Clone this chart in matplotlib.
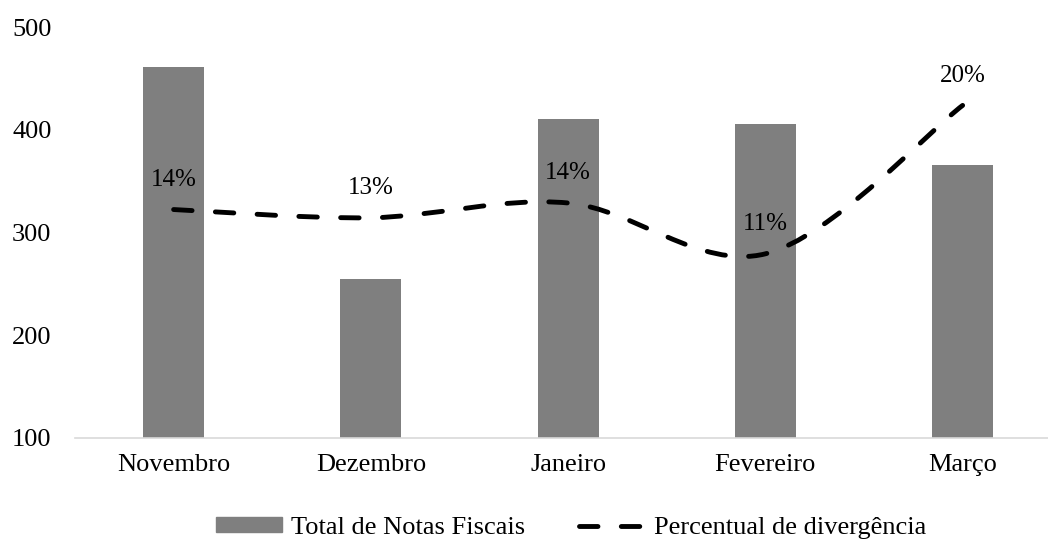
import matplotlib.pyplot as plt
from matplotlib.path import Path
from matplotlib.patches import PathPatch
from matplotlib.lines import Line2D
import numpy as np

meses = ['Novembro', 'Dezembro', 'Janeiro', 'Fevereiro', 'Março']
total_notas = [461, 255, 411, 406, 366]
divergencia = [0.139, 0.134, 0.143, 0.112, 0.2025]

plt.rcParams['font.family'] = ['Liberation Serif', 'DejaVu Serif']
fs = 19

fig = plt.figure(figsize=(10.48, 5.39), dpi=100)
ax = fig.add_axes([75/1048, 101.5/539, 973/1048, 410/539])

x = np.arange(len(meses))
ax.bar(x, total_notas, width=0.31, color='#7f7f7f', zorder=2,
       label='Total de Notas Fiscais')
ax.set_ylim(100, 500)
ax.set_yticks([100, 200, 300, 400, 500])
ax.set_xlim(-0.5, -0.5 + 973/197.25)
ax.set_xticks(x)
ax.set_xticklabels(meses)
ax.tick_params(axis='both', length=0, labelsize=fs)
ax.tick_params(axis='x', pad=12)
ax.tick_params(axis='y', pad=17)
for s in ['top', 'right', 'left']:
    ax.spines[s].set_visible(False)
ax.spines['bottom'].set_color('#d9d9d9')
ax.spines['bottom'].set_linewidth(1.2)

# percentual em eixo secundario (oculto)
ax2 = ax.twinx()
ax2.set_ylim(0, 0.25)
ax2.axis('off')

# linha suavizada (bezier estilo catmull-rom)
pts = np.column_stack([x, divergencia])
verts = [tuple(pts[0])]
codes = [Path.MOVETO]
n = len(pts)
for i in range(n - 1):
    p0 = pts[max(i - 1, 0)]
    p1 = pts[i]
    p2 = pts[i + 1]
    p3 = pts[min(i + 2, n - 1)]
    c1 = p1 + (p2 - p0) / 6
    c2 = p2 - (p3 - p1) / 6
    verts += [tuple(c1), tuple(c2), tuple(p2)]
    codes += [Path.CURVE4] * 3
lw = 3.5
dash = (0, (3.8, 4.8))
curva = PathPatch(Path(verts, codes), fill=False, edgecolor='black', lw=lw,
                  linestyle=dash, capstyle='round', zorder=3)
ax2.add_patch(curva)

for xi, v in zip(x, divergencia):
    ax2.annotate('{:.0%}'.format(v), (xi, v), xytext=(0, 21.5),
                 textcoords='offset points', ha='center', va='center',
                 fontsize=18)

h1 = plt.Rectangle((0, 0), 1, 1, color='#7f7f7f')
h2 = Line2D([0], [0], color='black', lw=lw, linestyle=dash,
            dash_capstyle='round')
fig.legend([h1, h2], ['Total de Notas Fiscais', 'Percentual de divergência'],
           loc='center', bbox_to_anchor=(571/1048, 1 - 528/539), ncol=2,
           frameon=False, fontsize=fs, handlelength=2.5, handleheight=0.5,
           handletextpad=0.33, columnspacing=2.05)

fig.savefig('out.png', dpi=100)
